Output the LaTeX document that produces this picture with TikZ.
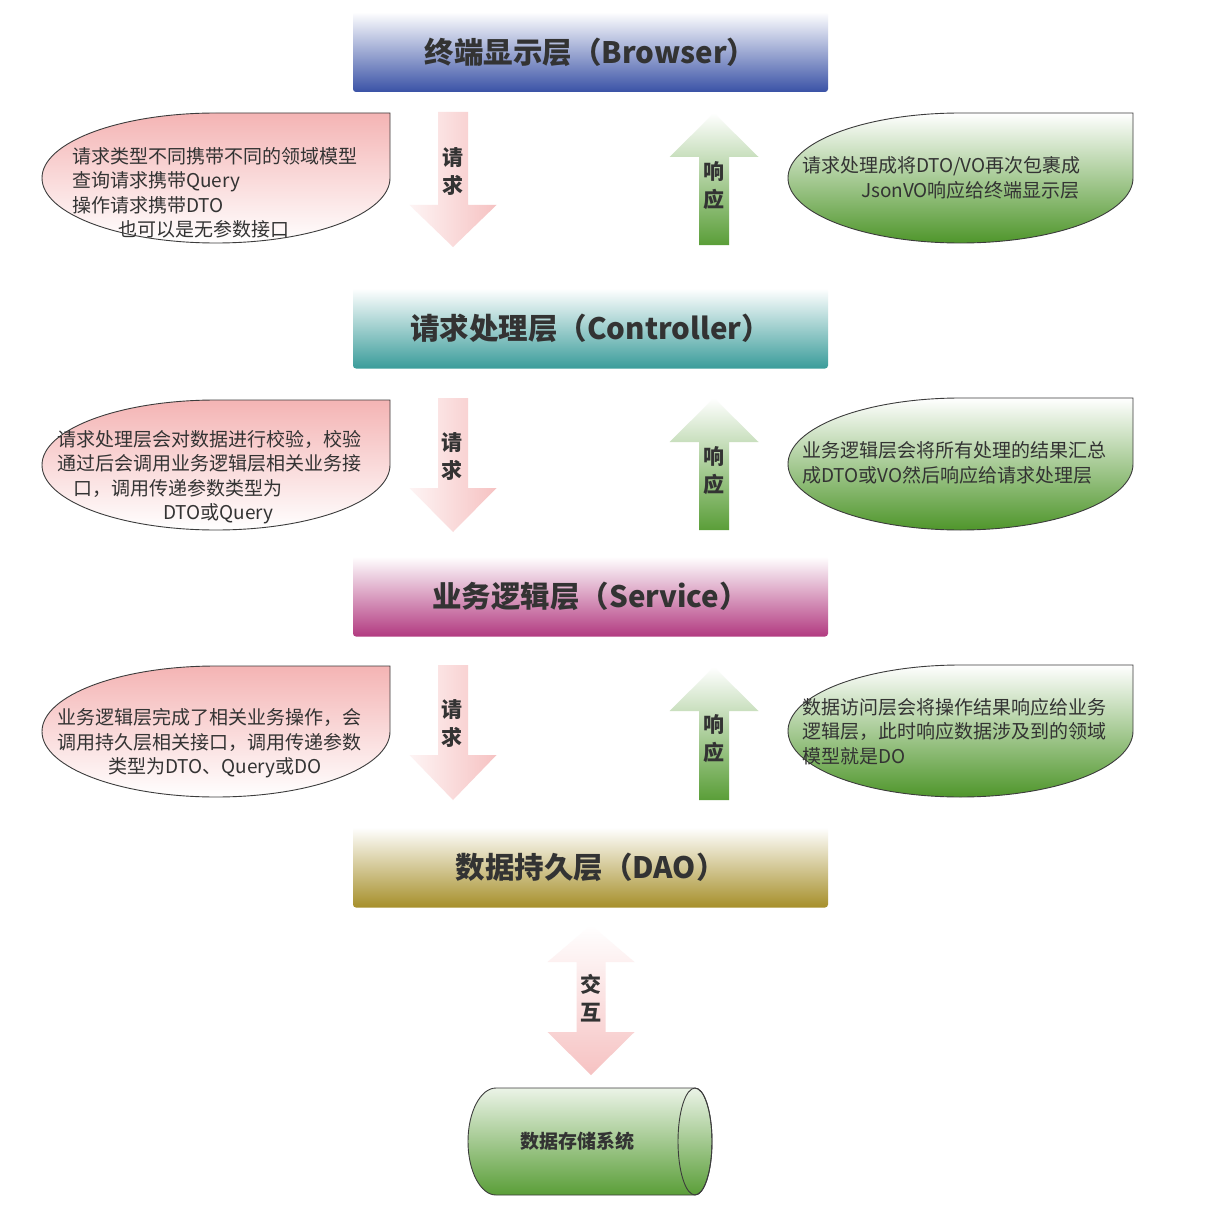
\documentclass[tikz,border=0pt]{standalone}
\usepackage{fontspec}
\setmainfont{Noto Sans CJK SC}
\usetikzlibrary{calc}
\definecolor{pinkA}{HTML}{F4B4B4}
\definecolor{pinkB}{HTML}{F6C2C2}
\definecolor{greenA}{HTML}{4F962B}
\definecolor{greenB}{HTML}{5A9E38}
\definecolor{blueL}{HTML}{3A52A6}
\definecolor{tealL}{HTML}{3A9C9A}
\definecolor{magL}{HTML}{B23A80}
\definecolor{oliveL}{HTML}{A68F2A}
\definecolor{txt}{HTML}{333333}
\definecolor{edge}{HTML}{3C3C3C}
\tikzset{
  layer/.style={minimum width=475pt, minimum height=80pt, rounded corners=3pt,
    font=\fontsize{29.5}{34}\selectfont\bfseries, text=txt, inner sep=0pt},
  ctext/.style={font=\fontsize{19}{24.5}\selectfont, text=txt, align=left,
    inner sep=0pt, anchor=west},
  alabel/.style={font=\fontsize{21}{28}\selectfont\bfseries, text=txt, align=center,
    inner sep=0pt},
  pinkcall/.style={draw=edge, line width=0.9pt, top color=pinkA, bottom color=white},
  greencall/.style={draw=edge, line width=0.9pt, top color=white, bottom color=greenA},
}
% callout: #1 style, #2 cx, #3 cy(neg), #4 rx, #5 ry
\newcommand\mycallout[5]{%
  \path[#1] ({#2+#4},{#3+#5}) -- ({#2+#4},{#3})
    arc[start angle=0, end angle=-270, x radius=#4, y radius=#5] -- cycle;}
% down arrow: #1 x center, #2 top y, #3 head base y, #4 tip y
\newcommand\mydown[4]{%
  \path[left color=pinkB!18!white, right color=pinkB]
    ({#1-15},{#2}) -- ({#1+15},{#2}) -- ({#1+15},{#3}) -- ({#1+43.5},{#3})
    -- ({#1},{#4}) -- ({#1-43.5},{#3}) -- ({#1-15},{#3}) -- cycle;}
% up arrow: #1 x center, #2 tip y, #3 head base y, #4 bottom y
\newcommand\myup[4]{%
  \path[top color=white, bottom color=greenB]
    ({#1},{#2}) -- ({#1+44.5},{#3}) -- ({#1+15},{#3}) -- ({#1+15},{#4})
    -- ({#1-15},{#4}) -- ({#1-15},{#3}) -- ({#1-44.5},{#3}) -- cycle;}
\begin{document}
\begin{tikzpicture}[x=1pt,y=1pt]
\useasboundingbox (0,0) rectangle (1210,-1209);
\fill[white] (0,0) rectangle (1210,-1209);

% layer boxes
\node[layer, top color=white, bottom color=blueL] (browser) at (590.5,-52) {终端显示层（Browser）};
\node[layer, top color=white, bottom color=tealL] (controller) at (590.5,-328.5) {请求处理层（Controller）};
\node[layer, top color=white, bottom color=magL] (service) at (590.5,-596.5) {业务逻辑层（Service）};
\node[layer, top color=white, bottom color=oliveL] (dao) at (590.5,-867.5) {数据持久层（DAO）};

% arrows
\mydown{453}{-112}{-205}{-247}
\myup{714}{-113}{-157}{-245}
\mydown{453}{-398}{-488}{-532}
\myup{714}{-398}{-442}{-530}
\mydown{453}{-665}{-755}{-800}
\myup{714}{-667}{-711}{-800}
\path[top color=white, bottom color=pinkB]
  (591,-925) -- (634.5,-962) -- (605.5,-962) -- (605.5,-1032) -- (634.5,-1032)
  -- (591,-1075) -- (547.5,-1032) -- (576.5,-1032) -- (576.5,-962) -- (547.5,-962) -- cycle;

\node[alabel] (req1) at (453,-172) {请\\求};
\node[alabel] (res1) at (714,-185.5) {响\\应};
\node[alabel] (req2) at (452,-457) {请\\求};
\node[alabel] (res2) at (714,-471) {响\\应};
\node[alabel] (req3) at (452,-724) {请\\求};
\node[alabel] (res3) at (714,-739) {响\\应};
\node[alabel] (inter) at (591,-998) {交\\互};

% callouts
\mycallout{pinkcall}{216}{-178}{174}{65}
\mycallout{pinkcall}{216}{-465}{174}{65}
\mycallout{pinkcall}{216}{-731.5}{174}{65.5}
\mycallout{greencall}{960.5}{-178}{172.5}{65}
\mycallout{greencall}{960.5}{-464}{172.5}{66}
\mycallout{greencall}{960.5}{-731}{172.5}{66}

\node[ctext] (c1) at (72,-193) {请求类型不同携带不同的领域模型\\查询请求携带Query\\操作请求携带DTO\\\hspace*{46pt}也可以是无参数接口};
\node[ctext] (c2) at (57,-477) {请求处理层会对数据进行校验，校验\\通过后会调用业务逻辑层相关业务接\\\hspace*{16pt}口，调用传递参数类型为\\\hspace*{106pt}DTO或Query};
\node[ctext] (c3) at (57,-743.5) {业务逻辑层完成了相关业务操作，会\\调用持久层相关接口，调用传递参数\\\hspace*{51pt}类型为DTO、Query或DO};
\node[ctext] (r1) at (802,-178) {请求处理成将DTO/VO再次包裹成\\\hspace*{59pt}JsonVO响应给终端显示层};
\node[ctext] (r2) at (802,-463) {业务逻辑层会将所有处理的结果汇总\\成DTO或VO然后响应给请求处理层};
\node[ctext] (r3) at (802,-731.5) {数据访问层会将操作结果响应给业务\\逻辑层，此时响应数据涉及到的领域\\模型就是DO};

% cylinder
\path[draw=edge, line width=0.9pt, top color=greenB!12!white, bottom color=greenB]
  (695,-1088) -- (496,-1088)
  arc[start angle=90, end angle=270, x radius=28, y radius=53.5]
  -- (695,-1195)
  arc[start angle=-90, end angle=90, x radius=17, y radius=53.5] -- cycle;
\draw[edge, line width=0.9pt] (695,-1141.5) ellipse[x radius=17, y radius=53.5];
\node[font=\fontsize{19}{23}\selectfont\bfseries, text=txt, inner sep=0pt] (store) at (577,-1141) {数据存储系统};
\end{tikzpicture}
\end{document}
